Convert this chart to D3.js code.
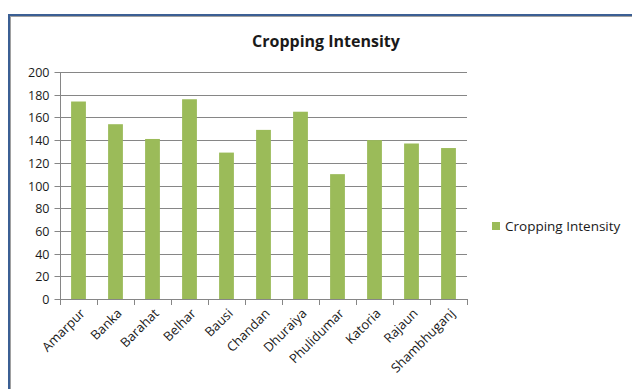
<!DOCTYPE html>
<html>
<head>
<meta charset="utf-8">
<script src="https://cdn.jsdelivr.net/npm/d3@7"></script>
<style>
  html, body { margin: 0; padding: 0; background: #fff; }
  svg { display: block; }
  text { font-family: "Open Sans", Lato, sans-serif; fill: #1a1a1a; }
</style>
</head>
<body>
<svg id="chart" width="632" height="389"></svg>
<script>
// Cropping intensity by block
const blocks = ["Amarpur", "Banka", "Barahat", "Belhar", "Bausi", "Chandan",
                "Dhuraiya", "Phulidumar", "Katoria", "Rajaun", "Shambhuganj"];
const intensity = [174, 154, 141, 176, 129, 149, 165, 110, 140, 137, 133];
const yTicks = [0, 20, 40, 60, 80, 100, 120, 140, 160, 180, 200];
const seriesName = "Cropping Intensity";
const chartTitle = "Cropping Intensity";

const svg = d3.select("#chart");
const W = 632, H = 389;
const plot = { left: 60, right: 467, top: 72, bottom: 299 };

// Outer chart frame
svg.append("rect").attr("x", 10.5).attr("y", 16.5).attr("width", W).attr("height", H)
  .attr("fill", "none").attr("stroke", "#a0a0a0").attr("stroke-width", 1);
svg.append("rect").attr("x", 9).attr("y", 15).attr("width", W).attr("height", H)
  .attr("fill", "none").attr("stroke", "#3b5f94").attr("stroke-width", 2);

const x = d3.scaleBand().domain(blocks).range([plot.left, plot.right])
  .paddingInner(0.6).paddingOuter(0.3);
const y = d3.scaleLinear().domain([0, 200]).range([plot.bottom, plot.top]);

// Gridlines
svg.append("g").selectAll("line").data(yTicks.filter(d => d > 0)).join("line")
  .attr("x1", plot.left).attr("x2", plot.right)
  .attr("y1", d => Math.round(y(d)) + 0.5).attr("y2", d => Math.round(y(d)) + 0.5)
  .attr("stroke", "#868686").attr("stroke-width", 1);

// Bars
svg.append("g").selectAll("rect").data(blocks).join("rect")
  .attr("x", d => x(d))
  .attr("y", (d, i) => y(intensity[i]))
  .attr("width", x.bandwidth())
  .attr("height", (d, i) => plot.bottom - y(intensity[i]))
  .attr("fill", "#9bbb59");

// Y axis
const yAxis = svg.append("g").attr("transform", `translate(${plot.left + 0.5},0)`)
  .call(d3.axisLeft(y).tickValues(yTicks).tickSize(6).tickPadding(5));
yAxis.select(".domain").attr("stroke", "#868686").attr("d", `M0,${plot.top}V${plot.bottom}`);
yAxis.selectAll(".tick line").attr("stroke", "#868686");
yAxis.selectAll(".tick").attr("transform", d => `translate(0,${Math.round(y(d)) + 0.5})`);
yAxis.selectAll("text").style("font-size", "12.5px").style("font-family", "\"Open Sans\", sans-serif")
  .attr("fill", "#1a1a1a");

// X axis with category boundary ticks
const xAxisG = svg.append("g");
xAxisG.append("line").attr("x1", plot.left).attr("x2", plot.right)
  .attr("y1", plot.bottom + 0.5).attr("y2", plot.bottom + 0.5).attr("stroke", "#868686");
const bounds = d3.range(blocks.length + 1).map(i => plot.left + i * (plot.right - plot.left) / blocks.length);
xAxisG.selectAll("line.tk").data(bounds).join("line").attr("class", "tk")
  .attr("x1", d => Math.round(d) + 0.5).attr("x2", d => Math.round(d) + 0.5)
  .attr("y1", plot.bottom).attr("y2", plot.bottom + 6).attr("stroke", "#868686");
xAxisG.selectAll("text").data(blocks).join("text")
  .attr("transform", d => `translate(${x(d) + x.bandwidth() / 2 + 4},${plot.bottom + 12}) rotate(-45)`)
  .attr("text-anchor", "end")
  .attr("dy", "0.35em")
  .style("font-size", "13px")
  .text(d => d);

// Title
svg.append("text").attr("x", 326).attr("y", 47).attr("text-anchor", "middle")
  .style("font-size", "16px").style("font-weight", "bold").text(chartTitle);

// Legend
svg.append("rect").attr("x", 492).attr("y", 222).attr("width", 8).attr("height", 8).attr("fill", "#9bbb59");
svg.append("text").attr("x", 505).attr("y", 226).attr("dy", "0.35em")
  .style("font-size", "13.5px").text(seriesName);
</script>
</body>
</html>
